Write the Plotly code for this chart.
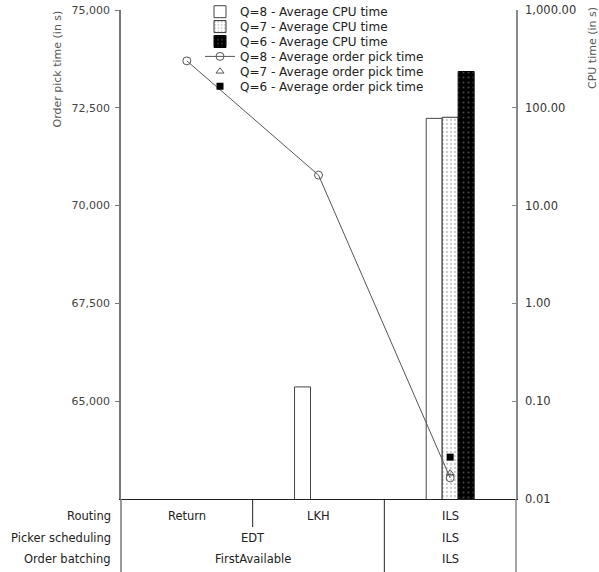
import plotly.graph_objects as go

# Configurations (x categories = routing method)
routing = ["Return", "LKH", "ILS"]

# Average CPU time (in s), log scale on the right axis
cpu_q8 = [None, 0.14, 78]
cpu_q7 = [None, None, 80]
cpu_q6 = [None, None, 235]

# Average order pick time (in s), linear scale on the left axis
pick_q8 = [73700, 70780, 63040]
pick_q7 = [None, None, 63160]
pick_q6 = [None, None, 63570]

left_ticks = [65000, 67500, 70000, 72500, 75000]
right_ticks = [0.01, 0.1, 1, 10, 100, 1000]
right_ticktext = ["0.01", "0.10", "1.00", "10.00", "100.00", "1,000.00"]

# Configuration table under the plot: (row label, [(cell text, span in columns)])
table_rows = [
    ("Routing", [("Return", 1), ("LKH", 1), ("ILS", 1)]),
    ("Picker scheduling", [("EDT", 2), ("ILS", 1)]),
    ("Order batching", [("FirstAvailable", 2), ("ILS", 1)]),
]

W, H = 599, 572
M_L, M_R, M_T, M_B = 121, 83, 10, 73
PLOT_H = H - M_T - M_B
PLOT_BOTTOM = H - M_B


def py(px):
    """Convert a pixel row of the page into paper coordinates."""
    return (PLOT_BOTTOM - px) / PLOT_H


FONT = "DejaVu Sans"

fig = go.Figure()

fig.add_trace(go.Bar(
    x=routing, y=cpu_q8, name="Q=8 - Average CPU time", yaxis="y",
    marker=dict(color="white", line=dict(color="#444", width=1)),
    legend="legend",
))
fig.add_trace(go.Bar(
    x=routing, y=cpu_q7, name="Q=7 - Average CPU time", yaxis="y",
    marker=dict(color="white", line=dict(color="#333", width=1),
                pattern=dict(shape=".", fgcolor="#9a9a9a", bgcolor="white",
                             size=4, solidity=0.25)),
    legend="legend2",
))
fig.add_trace(go.Bar(
    x=routing, y=cpu_q6, name="Q=6 - Average CPU time", yaxis="y",
    marker=dict(color="black", line=dict(color="black", width=1),
                pattern=dict(shape=".", fgcolor="#8a8a8a", bgcolor="black",
                             size=5, solidity=0.15)),
    legend="legend3",
))

fig.add_trace(go.Scatter(
    x=routing, y=pick_q8, name="Q=8 - Average order pick time", yaxis="y2",
    mode="lines+markers", line=dict(color="#555", width=1),
    marker=dict(symbol="circle-open", size=8, color="#555", line=dict(width=1)),
    legend="legend4",
))
fig.add_trace(go.Scatter(
    x=routing, y=pick_q7, name="Q=7 - Average order pick time", yaxis="y2",
    mode="markers",
    marker=dict(symbol="triangle-up-open", size=7, color="#555", line=dict(width=1)),
    legend="legend5",
))
fig.add_trace(go.Scatter(
    x=routing, y=pick_q6, name="Q=6 - Average order pick time", yaxis="y2",
    mode="markers",
    marker=dict(symbol="square", size=7, color="black"),
    legend="legend6",
))

# One single-entry legend per row keeps the rows tightly spaced
legend_rows_px = [11.7, 26.6, 41.5, 56.4, 71.3, 86.2]
legend_layout = {}
for i, row_px in enumerate(legend_rows_px):
    key = "legend" if i == 0 else f"legend{i + 1}"
    legend_layout[key] = dict(
        x=0.2, xanchor="left", yref="container", y=1 - row_px / H, yanchor="middle",
        bgcolor="rgba(0,0,0,0)", borderwidth=0,
        font=dict(family=FONT, size=12, color="#222"),
    )

shapes = []
annotations = []

# Table frame: both axis lines continue down through the table
table_bottom = py(H)
shapes.append(dict(type="line", xref="paper", yref="paper", x0=0, x1=0,
                   y0=0, y1=table_bottom, line=dict(color="#777", width=1.5)))
shapes.append(dict(type="line", xref="paper", yref="paper", x0=1, x1=1,
                   y0=0, y1=table_bottom, line=dict(color="#888", width=1.5)))

row_centers_px = [516, 537.5, 558.5]
row_edges_px = [PLOT_BOTTOM, 527, 548, H]
for r, (label, cells) in enumerate(table_rows):
    yc = py(row_centers_px[r])
    annotations.append(dict(xref="paper", yref="paper", x=0, y=yc, xanchor="right",
                            yanchor="middle", xshift=-8, text=label, showarrow=False,
                            font=dict(family=FONT, size=11.5, color="#222")))
    start = 0
    for k, (text, span) in enumerate(cells):
        annotations.append(dict(xref="x", yref="paper", x=start + span / 2 - 0.5, y=yc,
                                xanchor="center", yanchor="middle", text=text,
                                showarrow=False,
                                font=dict(family=FONT, size=11.5, color="#222")))
        start += span
        if k < len(cells) - 1:
            shapes.append(dict(type="line", xref="x", yref="paper",
                               x0=start - 0.5, x1=start - 0.5,
                               y0=py(row_edges_px[r]), y1=py(row_edges_px[r + 1]),
                               line=dict(color="#222", width=1)))

# Axis titles, aligned with the top of the plot
annotations.append(dict(xref="paper", yref="paper", x=(57 - M_L) / (W - M_L - M_R),
                        y=py(9), xanchor="center", yanchor="top", textangle=-90,
                        text="Order pick time (in s)", showarrow=False,
                        font=dict(family=FONT, size=11, color="#555")))
annotations.append(dict(xref="paper", yref="paper", x=(593 - M_L) / (W - M_L - M_R),
                        y=py(5), xanchor="center", yanchor="top", textangle=-90,
                        text="CPU time (in s)", showarrow=False,
                        font=dict(family=FONT, size=11, color="#555")))

fig.update_layout(
    width=W, height=H,
    margin=dict(l=M_L, r=M_R, t=M_T, b=M_B, pad=0, autoexpand=False),
    paper_bgcolor="white", plot_bgcolor="white",
    barmode="group", bargap=0.636, bargroupgap=0,
    showlegend=True,
    xaxis=dict(type="category", categoryorder="array", categoryarray=routing,
               range=[-0.5, 2.5], showticklabels=False, ticks="",
               showline=True, linecolor="#222", linewidth=1,
               showgrid=False, zeroline=False, fixedrange=True),
    yaxis=dict(type="log", range=[-2, 3], side="right",
               tickvals=right_ticks, ticktext=right_ticktext,
               ticks="inside", ticklen=4, tickcolor="#888",
               showline=True, linecolor="#888", linewidth=1.5,
               showgrid=False, zeroline=False, ticklabelstandoff=5,
               tickfont=dict(family=FONT, size=11.5, color="#333")),
    yaxis2=dict(range=[62500, 75000], side="left", overlaying="y",
                tickvals=left_ticks, tickformat=",",
                ticks="outside", ticklen=4, tickcolor="#777",
                showline=True, linecolor="#777", linewidth=1.5,
                showgrid=False, zeroline=False, ticklabelstandoff=3,
                tickfont=dict(family=FONT, size=11, color="#444")),
    shapes=shapes,
    annotations=annotations,
    **legend_layout,
)

fig.write_html("out.html")
